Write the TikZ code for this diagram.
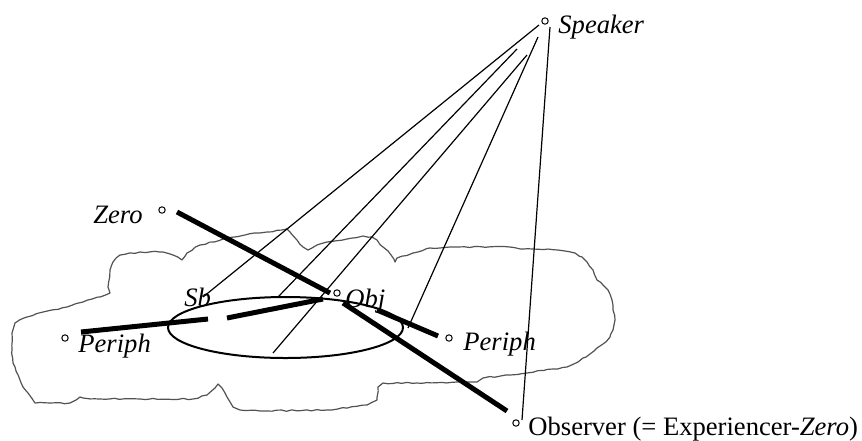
\documentclass[tikz,border=0pt]{standalone}
\usepackage{fontspec}
\setmainfont{Liberation Serif}
\usetikzlibrary{decorations.pathmorphing}
\begin{document}
\begin{tikzpicture}[x=0.5pt,y=-0.5pt,
  thinline/.style={line width=0.6pt},
  thickline/.style={line width=2.5pt},
  dot/.style={circle,draw,line width=0.5pt,minimum size=3.2pt,inner sep=0pt},
  lbl/.style={anchor=base west,inner sep=0pt,font=\fontsize{13.3}{15}\selectfont\itshape},
  cloudline/.style={draw=black!68,line width=0.6pt,line join=round,
    decorate,decoration={random steps,segment length=2.5pt,amplitude=0.35pt}}]
\pgfmathsetseed{7}
\useasboundingbox (0,0) rectangle (862,440);
% cloud outline
\draw[cloudline] (12,350) -- (12,333) -- (15,323) -- (27,317) -- (43,312) -- (67,307) -- (83,302) -- (100,297) -- (110,293) -- (108,287) -- (110,270) -- (113,262) -- (120,255) -- (140,252) -- (163,252) -- (173,255) -- (182,260) -- (187,253) -- (200,245) -- (223,239) -- (245,235) -- (267,232) -- (287,229) -- (290,232) -- (297,240) -- (303,247) -- (308,250) -- (317,245) -- (327,242) -- (347,239) -- (363,236) -- (372,237) -- (377,240) -- (383,247) -- (388,251) -- (395,262) -- (397,258) -- (413,253) -- (430,248) -- (450,247) -- (510,247) -- (523,249) -- (533,249) -- (558,250) -- (575,253) -- (582,257) -- (587,262) -- (593,270) -- (597,280) -- (603,285) -- (608,290) -- (612,300) -- (613,310) -- (615,320) -- (613,330) -- (610,337) -- (603,344) -- (597,348) -- (590,354) -- (583,358) -- (578,362) -- (567,367) -- (553,369) -- (527,373) -- (510,375) -- (483,378) -- (477,382) -- (457,382) -- (417,383) -- (383,383) -- (378,387) -- (377,400) -- (367,405) -- (327,410) -- (260,411) -- (240,410) -- (233,407) -- (227,397) -- (222,388) -- (218,384) -- (215,388) -- (207,395) -- (193,399) -- (150,399) -- (100,399) -- (83,398) -- (80,397) -- (70,403) -- (35,403) -- (28,393) -- (23,387) -- (20,380) -- (15,367) -- (13,363) -- cycle;
% ellipse
\draw[line width=1pt] (285.5,327.5) ellipse [x radius=117.5, y radius=30.5];
% nodes
\node[dot] (spk) at (545,21) {};
\node[lbl] (spkt) at (558,33) {Speaker};
\node[dot] (zero) at (162,210) {};
\node[lbl,anchor=base east] (zerot) at (143,223) {Zero};
\node[dot] (obj) at (337,293) {};
\node[lbl] (objt) at (345,307) {Obj};
\node[lbl] (sbt) at (184,306) {Sb};
\node[dot] (lp) at (65,338) {};
\node[lbl] (lpt) at (78,352) {Periph};
\node[dot] (rp) at (449,338) {};
\node[lbl] (rpt) at (463,350) {Periph};
\node[dot] (obs) at (516,423) {};
\node[lbl,font=\fontsize{13.3}{15}\selectfont] (obst) at (528,435) {Observer (= Experiencer-\textit{Zero})};
% thin line ends
\coordinate (s1) at (539,25);
\coordinate (s2) at (517,49);
\coordinate (s3) at (527,55);
\coordinate (s4) at (538,37);
\coordinate (s5) at (550,27);
\coordinate (e1) at (203,297);
\coordinate (e2) at (278,297);
\coordinate (e3) at (273,353);
\coordinate (e4) at (408,328);
\coordinate (e5) at (522,420);
\draw[thinline] (s1) -- (e1);
\draw[thinline] (s2) -- (e2);
\draw[thinline] (s3) -- (e3);
\draw[thinline] (s4) -- (e4);
\draw[thinline] (s5) -- (e5);
% thick line ends
\coordinate (z1) at (177,212);
\coordinate (z2) at (330,293);
\coordinate (p1) at (81,332);
\coordinate (p2) at (208,319);
\coordinate (p3) at (227,318);
\coordinate (p4) at (323,299);
\coordinate (o1) at (377,310);
\coordinate (o2) at (438,336);
\coordinate (b1) at (343,303);
\coordinate (b2) at (507,411);
\draw[thickline] (z1) -- (z2);
\draw[thickline] (p1) -- (p2);
\draw[thickline] (p3) -- (p4);
\draw[thickline] (o1) -- (o2);
\draw[thickline] (b1) -- (b2);
\end{tikzpicture}
\end{document}
